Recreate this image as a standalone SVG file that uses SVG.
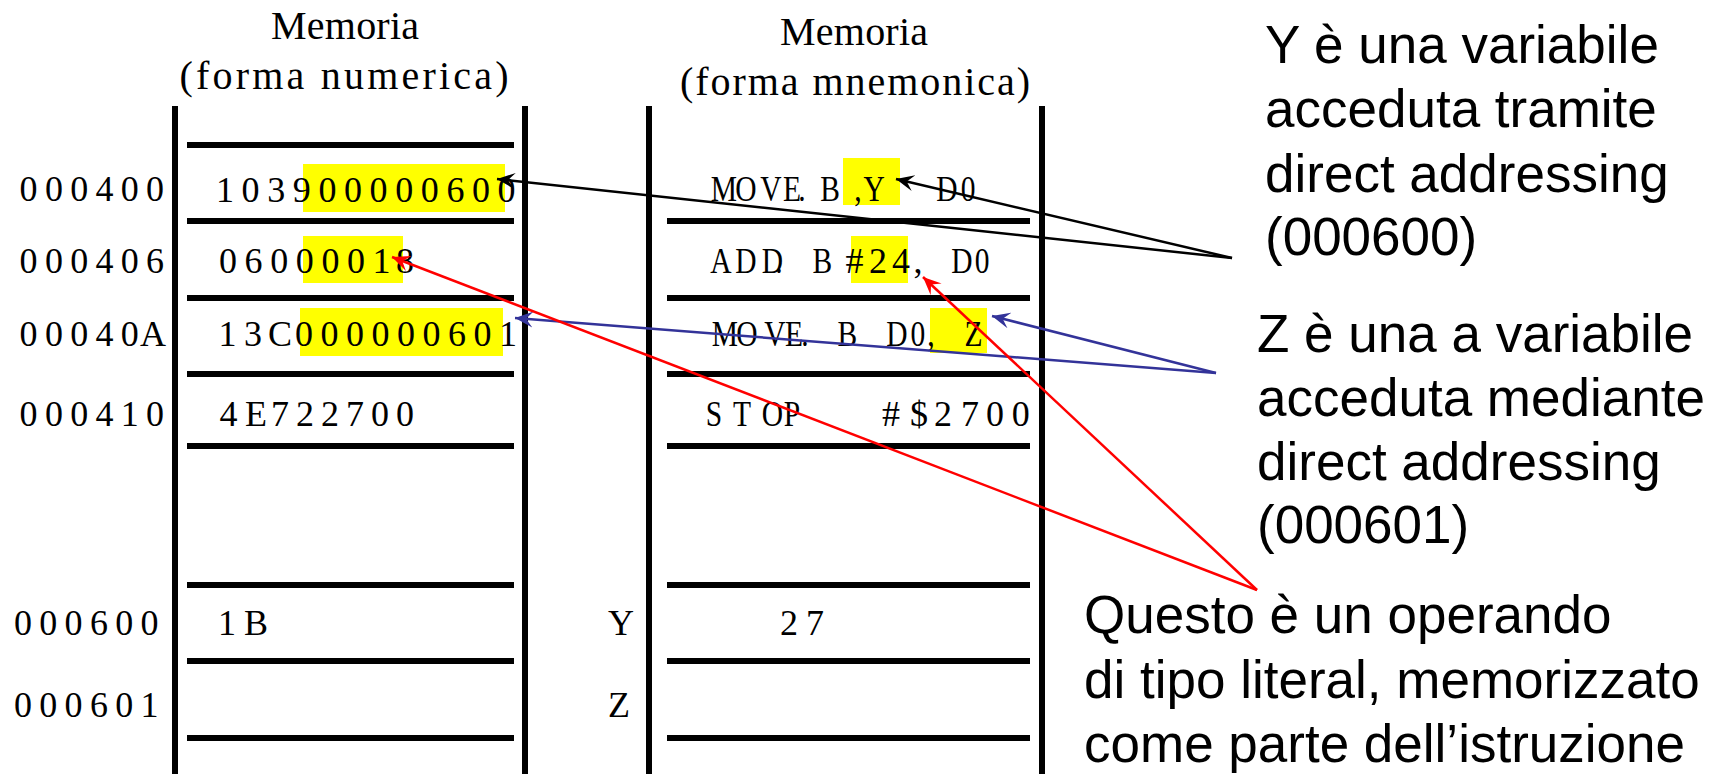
<svg xmlns="http://www.w3.org/2000/svg" width="1717" height="774" viewBox="0 0 1717 774">
<style>
.bg{fill:#ffffff}
.vl{stroke:#000;stroke-width:6;fill:none}
.hl{stroke:#000;stroke-width:6;fill:none}
.hi{fill:#ffff00}
.code{font-family:"Liberation Serif",serif;font-size:36px;fill:#000;text-anchor:middle}
.title{font-family:"Liberation Serif",serif;font-size:40px;fill:#000;text-anchor:middle}
.note{font-family:"Liberation Sans",Arial,sans-serif;font-size:53px;fill:#000}
.ck{stroke:#000;stroke-width:2.5;fill:none}
.cr{stroke:#ff0000;stroke-width:2.5;fill:none}
.cb{stroke:#333399;stroke-width:2.5;fill:none}
</style>
<defs>
<marker id="ak" markerUnits="userSpaceOnUse" viewBox="-18 -9 20 18" refX="0" refY="0" markerWidth="20" markerHeight="18" orient="auto"><path d="M0,0 L-18,-8 L-11,0 L-18,8 Z" fill="#000"/></marker>
<marker id="ar" markerUnits="userSpaceOnUse" viewBox="-18 -9 20 18" refX="0" refY="0" markerWidth="20" markerHeight="18" orient="auto"><path d="M0,0 L-18,-8 L-11,0 L-18,8 Z" fill="#ff0000"/></marker>
<marker id="ab" markerUnits="userSpaceOnUse" viewBox="-18 -9 20 18" refX="0" refY="0" markerWidth="20" markerHeight="18" orient="auto"><path d="M0,0 L-18,-8 L-11,0 L-18,8 Z" fill="#333399"/></marker>
</defs>
<rect class="bg" x="0" y="0" width="1717" height="774"/>

<g id="mem-numerica">
<text class="title" x="345" y="39" textLength="148" lengthAdjust="spacing">Memoria</text>
<text class="title" x="344" y="89" textLength="329" lengthAdjust="spacing">(forma numerica)</text>
<line class="vl" x1="175" y1="106" x2="175" y2="774"/>
<line class="vl" x1="525" y1="106" x2="525" y2="774"/>
<line class="hl" x1="187" y1="145" x2="514" y2="145"/>
<line class="hl" x1="187" y1="221" x2="514" y2="221"/>
<line class="hl" x1="187" y1="298" x2="514" y2="298"/>
<line class="hl" x1="187" y1="374" x2="514" y2="374"/>
<line class="hl" x1="187" y1="446" x2="514" y2="446"/>
<line class="hl" x1="187" y1="585" x2="514" y2="585"/>
<line class="hl" x1="187" y1="661" x2="514" y2="661"/>
<line class="hl" x1="187" y1="738" x2="514" y2="738"/>
<rect class="hi" x="303" y="164" width="202" height="48"/>
<rect class="hi" x="303" y="236" width="100" height="47"/>
<rect class="hi" x="300" y="308" width="203" height="48"/>
<text class="code" x="28.6 53.9 79.2 104.5 129.8 155.1" y="201">000400</text>
<text class="code" x="28.6 53.9 79.2 104.5 129.8 155.1" y="273">000406</text>
<text class="code" x="28.6 53.9 79.2 104.5 129.8 153" y="346">00040A</text>
<text class="code" x="28.6 53.9 79.2 104.5 129.8 155.1" y="426">000410</text>
<text class="code" x="23 48.3 73.6 98.9 124.2 149.5" y="635">000600</text>
<text class="code" x="23 48.3 73.6 98.9 124.2 149.5" y="717">000601</text>
<text class="code" x="225 250.6 276.2 301.8 327.4 353 378.6 404.2 429.8 455.4 481 506.6" y="202">103900000600</text>
<text class="code" x="228 253.6 279.2 304.8 330.4 356 381.6 405" y="273">06000018</text>
<text class="code" x="227.5 253 280 304 329.5 355 380.5 406 431.5 457 482.5 508" y="346">13C000000601</text>
<text class="code" x="228.6 256 280 305 330 355 380 405" y="426">4E722700</text>
<text class="code" x="227 256" y="635">1B</text>
</g>

<g id="mem-mnemonica">
<text class="title" x="854" y="45" textLength="148" lengthAdjust="spacing">Memoria</text>
<text class="title" x="855" y="95" textLength="350" lengthAdjust="spacing">(forma mnemonica)</text>
<line class="vl" x1="649" y1="106" x2="649" y2="774"/>
<line class="vl" x1="1042" y1="106" x2="1042" y2="774"/>
<line class="hl" x1="667" y1="221" x2="1030" y2="221"/>
<line class="hl" x1="667" y1="298" x2="1030" y2="298"/>
<line class="hl" x1="667" y1="374" x2="1030" y2="374"/>
<line class="hl" x1="667" y1="446" x2="1030" y2="446"/>
<line class="hl" x1="667" y1="585" x2="1030" y2="585"/>
<line class="hl" x1="667" y1="661" x2="1030" y2="661"/>
<line class="hl" x1="667" y1="738" x2="1030" y2="738"/>
<rect class="hi" x="843" y="158" width="57" height="47"/>
<rect class="hi" x="851" y="236" width="57" height="47"/>
<rect class="hi" x="930" y="308" width="57" height="45"/>
<g transform="scale(0.82 1)">
<text class="code" x="882.9 909.8 940.2 965.9 978 1012.2 1046.3 1065.9 1154.9 1180.5" y="201">MOVE.B,YD0</text>
<text class="code" x="879.3 909.8 942.1 950 1003" y="273">ADD.B</text>
<text class="code" x="1173.2 1197.6" y="273">D0</text>
<text class="code" x="884.1 911 945.1 968.3 981.7 1033.5 1093.9 1119.5 1135.4 1187.3" y="346">MOVE.BD0,Z</text>
<text class="code" x="870.7 904.9 942.1 965.9" y="426">STOP</text>
</g>
<text class="code" x="854.6 878 901 918" y="273">#24,</text>
<text class="code" x="891 919 943 970 995 1020.7" y="426">#$2700</text>
<text class="code" x="621" y="635">Y</text>
<text class="code" x="789 815" y="635">27</text>
<text class="code" x="619" y="717">Z</text>
</g>

<g id="note-y">
<text class="note" x="1265" y="63">Y è una variabile</text>
<text class="note" x="1265" y="127">acceduta tramite</text>
<text class="note" x="1265" y="192">direct addressing</text>
<text class="note" x="1265" y="255">(000600)</text>
</g>
<g id="note-z">
<text class="note" x="1257" y="352">Z è una a variabile</text>
<text class="note" x="1257" y="416">acceduta mediante</text>
<text class="note" x="1257" y="480">direct addressing</text>
<text class="note" x="1257" y="543">(000601)</text>
</g>
<g id="note-literal">
<text class="note" x="1084" y="633">Questo è un operando</text>
<text class="note" x="1084" y="698">di tipo literal, memorizzato</text>
<text class="note" x="1084" y="762">come parte dell’istruzione</text>
</g>

<g id="connectors">
<line class="ck" x1="1232" y1="258" x2="497" y2="179" marker-end="url(#ak)"/>
<line class="ck" x1="1232" y1="258" x2="896" y2="179" marker-end="url(#ak)"/>
<line class="cb" x1="1216" y1="373" x2="515" y2="318" marker-end="url(#ab)"/>
<line class="cb" x1="1216" y1="373" x2="992" y2="316" marker-end="url(#ab)"/>
<line class="cr" x1="1257" y1="590" x2="392" y2="257" marker-end="url(#ar)"/>
<line class="cr" x1="1257" y1="590" x2="923" y2="277" marker-end="url(#ar)"/>
</g>
</svg>
